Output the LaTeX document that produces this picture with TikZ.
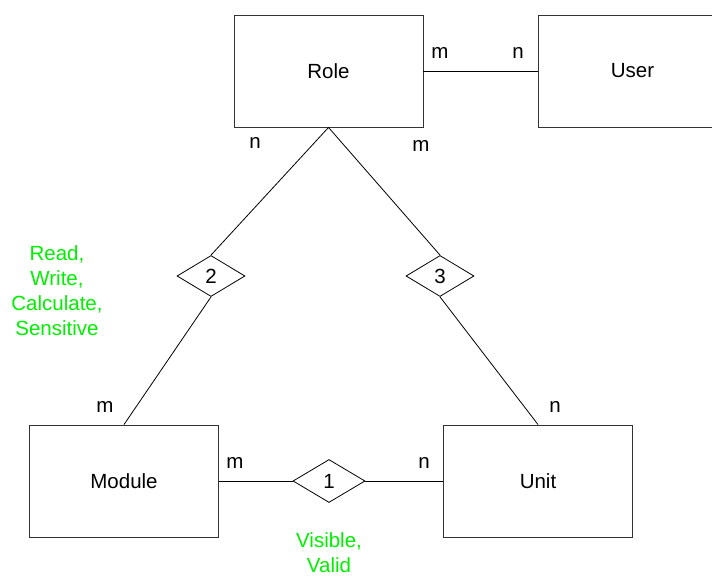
\documentclass[tikz,border=0pt]{standalone}
\usepackage{fontspec}
\setmainfont{Liberation Sans}
\usetikzlibrary{positioning,shapes.geometric}
\definecolor{attrgreen}{RGB}{0,240,0}

\begin{document}
\begin{tikzpicture}[
  x=1pt, y=-1pt,
  font=\fontsize{20.5}{26}\selectfont,
  every node/.style={inner sep=0pt},
  entity/.style={
    rectangle, draw=black!80, line width=0.9pt,
    minimum width=189pt, minimum height=112pt,
  },
  relbox/.style={
    diamond, draw=black, line width=0.8pt,
    minimum width=68pt, minimum height=41pt,
  },
  card/.style={font=\fontsize{20.5}{24}\selectfont},
  attr/.style={text=attrgreen, align=center, font=\fontsize{20.5}{25}\selectfont},
  link/.style={draw=black, line width=0.8pt},
]

\useasboundingbox (0,0) rectangle (712,577);
\clip (0,0) rectangle (712,577);

% ----- entities -----
\node[entity] (role)   at (328.5,71)  {Role};
\node[entity] (user)   at (632.5,71)  {User};
\node[entity] (module) at (124,481)   {Module};
\node[entity] (unit)   at (538,481)   {Unit};

% ----- relationships -----
\node[relbox] (rel2) at (211,276) {2};
\node[relbox] (rel3) at (440,276) {3};
\node[relbox, minimum width=72pt, minimum height=43pt] (rel1) at (329,481) {1};

% ----- connectors -----
\draw[link] (role.east) -- (user.west);
\draw[link] (role.south) -- (rel2.north);
\draw[link] (rel2.south) -- (module.north);
\draw[link] (role.south) -- (rel3.north);
\draw[link] (rel3.south) -- (unit.north);
\draw[link] (module.east) -- (rel1.west);
\draw[link] (rel1.east) -- (unit.west);

% ----- cardinalities -----
\node[card] (c1) at (440,53)  {m};
\node[card] (c2) at (518,53)  {n};
\node[card] (c3) at (255,143) {n};
\node[card] (c4) at (421,146) {m};
\node[card] (c5) at (105,407) {m};
\node[card] (c6) at (555,407) {n};
\node[card] (c7) at (235,463) {m};
\node[card] (c8) at (424,463) {n};

% ----- attributes (green) -----
\node[attr] (perm) at (57,291)  {Read,\\Write,\\Calculate,\\Sensitive};
\node[attr] (flag) at (329,553) {Visible,\\Valid};

\end{tikzpicture}
\end{document}
